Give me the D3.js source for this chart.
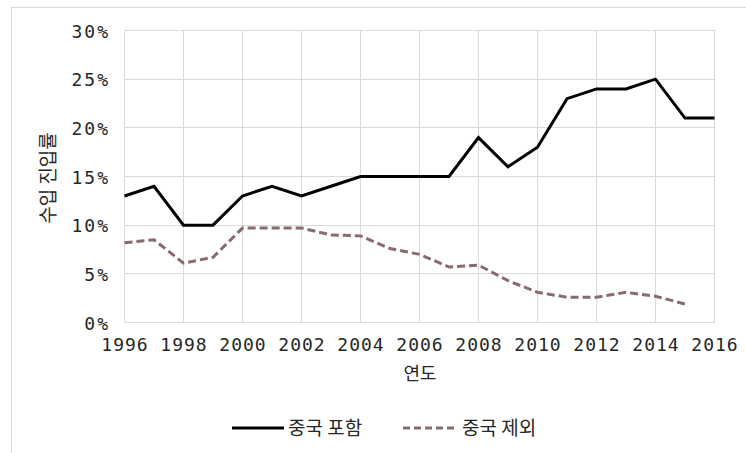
<!DOCTYPE html>
<meta charset="utf-8">
<script src="https://d3js.org/d3.v7.min.js"></script>
<style>
  body { margin: 0; background: #fff; }
</style>
<div id="chart"></div>
<script>

// data
var years = [1996,1997,1998,1999,2000,2001,2002,2003,2004,2005,2006,2007,2008,2009,2010,2011,2012,2013,2014,2015,2016];
var withChina = [13,14,10,10,13,14,13,14,15,15,15,15,19,16,18,23,24,24,25,21,21];
var withoutChina = [8.2,8.5,6.1,6.7,9.7,9.7,9.7,9.0,8.9,7.6,7.0,5.7,5.9,4.3,3.1,2.6,2.6,3.1,2.7,1.9,null];
var xTicks = [1996,1998,2000,2002,2004,2006,2008,2010,2012,2014,2016];
var yTicks = [0,5,10,15,20,25,30];
var seriesNames = ["중국 포함", "중국 제외"];

var W = 746, H = 453;
var numFont = "'DejaVu Sans Mono', monospace";
var korFont = "'Noto Sans CJK KR', sans-serif";
var textColor = "#262626";

var svg = d3.select("#chart")
  .append("svg")
    .attr("width", W)
    .attr("height", H);

// outer chart frame (only top / left visible)
svg.append("rect")
  .attr("x", 11.5).attr("y", 7.5)
  .attr("width", W + 20).attr("height", H + 20)
  .attr("fill", "#fff")
  .attr("stroke", "#d9d9d9");

var x = d3.scaleLinear().domain([1996, 2016]).range([124.5, 714.5]);
var y = d3.scaleLinear().domain([0, 30]).range([322.5, 30.5]);

// grid lines
svg.append("g")
  .selectAll("line")
  .data(yTicks)
  .enter().append("line")
    .attr("x1", x(1996)).attr("x2", x(2016))
    .attr("y1", function(d) { return Math.round(y(d) - 0.5) + 0.5; })
    .attr("y2", function(d) { return Math.round(y(d) - 0.5) + 0.5; })
    .attr("stroke", "#d9d9d9");

svg.append("g")
  .selectAll("line")
  .data(xTicks)
  .enter().append("line")
    .attr("x1", function(d) { return x(d); })
    .attr("x2", function(d) { return x(d); })
    .attr("y1", y(30)).attr("y2", y(0))
    .attr("stroke", "#d9d9d9");

// y tick labels
svg.append("g")
  .selectAll("text")
  .data(yTicks)
  .enter().append("text")
    .attr("x", 110)
    .attr("y", function(d) { return y(d) + 7; })
    .attr("text-anchor", "end")
    .style("font-family", numFont)
    .style("font-size", "18px")
    .style("letter-spacing", "2px")
    .attr("fill", textColor)
    .text(function(d) { return d + "%"; });

// x tick labels
svg.append("g")
  .selectAll("text")
  .data(xTicks)
  .enter().append("text")
    .attr("x", function(d) { return x(d) + 0.5; })
    .attr("y", 351)
    .attr("text-anchor", "middle")
    .style("font-family", numFont)
    .style("font-size", "18px")
    .style("letter-spacing", "1px")
    .attr("fill", textColor)
    .text(function(d) { return d; });

// axis titles
svg.append("text")
  .attr("transform", "translate(55,178) rotate(-90)")
  .attr("text-anchor", "middle")
  .style("font-family", korFont)
  .style("font-size", "19px")
  .attr("fill", textColor)
  .text("수입 진입률");

svg.append("text")
  .attr("x", 420)
  .attr("y", 380)
  .attr("text-anchor", "middle")
  .style("font-family", korFont)
  .style("font-size", "18px")
  .attr("fill", textColor)
  .text("연도");

// lines
var line = function(vals) {
  return d3.line()
    .defined(function(d, i) { return vals[i] != null; })
    .x(function(d) { return x(d); })
    .y(function(d, i) { return y(vals[i]); })(years);
};

svg.append("path")
  .attr("d", line(withChina))
  .attr("fill", "none")
  .attr("stroke", "#000")
  .attr("stroke-width", 3)
  .attr("stroke-linejoin", "miter");

svg.append("path")
  .attr("d", line(withoutChina))
  .attr("fill", "none")
  .attr("stroke", "#8a6a6c")
  .attr("stroke-width", 3)
  .attr("stroke-dasharray", "8,4");

// legend
var legend = svg.append("g");
legend.append("line")
  .attr("x1", 232).attr("x2", 284)
  .attr("y1", 428).attr("y2", 428)
  .attr("stroke", "#000").attr("stroke-width", 3);
legend.append("text")
  .attr("x", 288).attr("y", 435)
  .style("font-family", korFont)
  .style("font-size", "19px")
  .attr("fill", textColor)
  .text(seriesNames[0]);
legend.append("line")
  .attr("x1", 403).attr("x2", 457)
  .attr("y1", 428).attr("y2", 428)
  .attr("stroke", "#8a6a6c").attr("stroke-width", 3)
  .attr("stroke-dasharray", "7,4");
legend.append("text")
  .attr("x", 462).attr("y", 435)
  .style("font-family", korFont)
  .style("font-size", "19px")
  .attr("fill", textColor)
  .text(seriesNames[1]);

</script>
